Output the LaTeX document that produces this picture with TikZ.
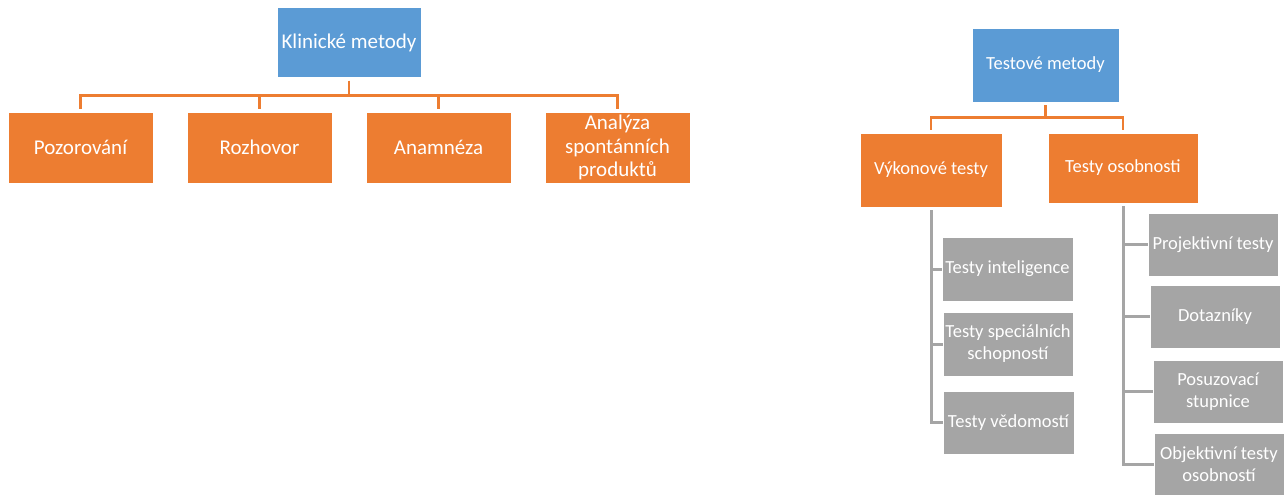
\documentclass[tikz,border=0pt]{standalone}
\usepackage{fontspec}
\setmainfont{Carlito}
\definecolor{smBlue}{RGB}{91,155,213}
\definecolor{smOrange}{RGB}{237,125,49}
\definecolor{smGray}{RGB}{165,165,165}

\begin{document}
\begin{tikzpicture}[
    x=1pt, y=-1pt,
    box/.style={rectangle, draw=white, line width=0.8pt, text=white, align=center, inner sep=0pt},
    rootbox/.style={box, fill=smBlue},
    catbox/.style={box, fill=smOrange},
    leafbox/.style={box, fill=smGray, minimum width=130pt, minimum height=63pt, font=\fontsize{18.5}{22}\selectfont},
    olink/.style={draw=smOrange, line width=2.5pt},
    glink/.style={draw=smGray, line width=3pt},
  ]
  \useasboundingbox (0,0) rectangle (1285,495);

  %% ---------------- left: clinical methods ----------------
  \begin{scope}[every node/.append style={font=\fontsize{21}{23.5}\selectfont}]
    \node[rootbox, minimum width=144pt, minimum height=70pt] (klin) at (349,42.5) {Klinické metody};
    \node[catbox, minimum width=145pt, minimum height=71pt] (poz)  at (80.5,147.5) {Pozorování};
    \node[catbox, minimum width=145pt, minimum height=71pt] (roz)  at (259.5,147.5) {Rozhovor};
    \node[catbox, minimum width=145pt, minimum height=71pt] (anam) at (438.5,147.5) {Anamnéza};
    \node[catbox, minimum width=145pt, minimum height=71pt] (anal) at (617.5,147.5) {Analýza\\spontánních\\produktů};
  \end{scope}
  \foreach \c in {poz,roz,anam,anal}
    \draw[olink, shorten <=3pt, shorten >=3pt] (klin.south) |- ([yshift=16pt]\c.north) -- (\c.north);

  %% ---------------- right: test methods ----------------
  \begin{scope}[every node/.append style={font=\fontsize{18.5}{22}\selectfont}]
    \node[rootbox, minimum width=147pt, minimum height=74pt] (test) at (1045.5,65) {Testové metody};
    \node[catbox, minimum width=142pt, minimum height=74pt] (vyk)  at (931,170) {Výkonové testy};
    \node[catbox, minimum width=150pt, minimum height=70pt] (osob) at (1123,168) {Testy osobnosti};
  \end{scope}
  \foreach \c in {vyk,osob}
    \draw[olink, shorten <=3pt, shorten >=3pt] (test.south) |- ([yshift=15pt]\c.north) -- (\c.north);

  % performance tests
  \node[leafbox, minimum width=131pt, minimum height=64pt] (intel) at (1007.5,269) {Testy inteligence};
  \node[leafbox, minimum height=64pt] (spec) at (1008,344) {Testy speciálních\\schopností};
  \node[leafbox, minimum width=131pt] (vedo) at (1008.5,422.5) {Testy vědomostí};
  \foreach \c in {intel,spec,vedo}
    \draw[glink, shorten <=3pt] (vyk.south) |- (\c.west);

  % personality tests
  \node[leafbox] (proj)  at (1213,244.5) {Projektivní testy};
  \node[leafbox] (dotaz) at (1215,316.5) {Dotazníky};
  \node[leafbox] (posuz) at (1218,391.5) {Posuzovací\\stupnice};
  \node[leafbox, minimum height=62pt] (objek) at (1219,464) {Objektivní testy\\osobností};
  \foreach \c in {proj,dotaz,posuz,objek}
    \draw[glink, shorten <=3pt] (osob.south) |- (\c.west);

\end{tikzpicture}
\end{document}
